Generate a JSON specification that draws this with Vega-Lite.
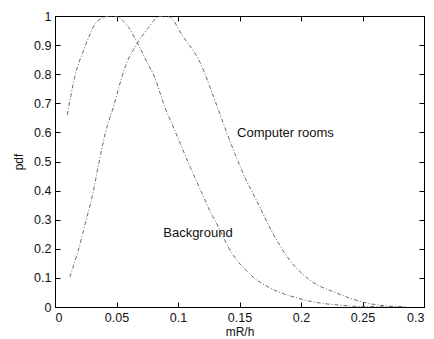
{
  "$schema": "https://vega.github.io/schema/vega-lite/v6.json",
  "width": 369,
  "height": 291,
  "autosize": {"type": "none"},
  "padding": {"left": 55, "top": 16, "right": 10, "bottom": 32},
  "background": "white",
  "config": {
    "view": {"stroke": "black", "strokeWidth": 1},
    "font": "Liberation Sans",
    "axis": {
      "grid": false,
      "domainColor": "black",
      "tickColor": "black",
      "tickSize": -5,
      "labelPadding": 9,
      "labelFont": "Liberation Sans",
      "labelFontSize": 12.5,
      "labelColor": "#111",
      "titleFont": "Liberation Sans",
      "titleFontSize": 12,
      "titleFontWeight": "normal",
      "titleColor": "#111"
    }
  },
  "datasets": {
    "curves": [
      {"series": "Background", "x": 0.010, "y": 0.66},
      {"series": "Background", "x": 0.016, "y": 0.79},
      {"series": "Background", "x": 0.024, "y": 0.89},
      {"series": "Background", "x": 0.033, "y": 0.975},
      {"series": "Background", "x": 0.041, "y": 0.997},
      {"series": "Background", "x": 0.045, "y": 1.0},
      {"series": "Background", "x": 0.049, "y": 1.0},
      {"series": "Background", "x": 0.055, "y": 0.985},
      {"series": "Background", "x": 0.060, "y": 0.96},
      {"series": "Background", "x": 0.067, "y": 0.907},
      {"series": "Background", "x": 0.075, "y": 0.84},
      {"series": "Background", "x": 0.081, "y": 0.79},
      {"series": "Background", "x": 0.089, "y": 0.69},
      {"series": "Background", "x": 0.095, "y": 0.63},
      {"series": "Background", "x": 0.102, "y": 0.56},
      {"series": "Background", "x": 0.110, "y": 0.48},
      {"series": "Background", "x": 0.118, "y": 0.405},
      {"series": "Background", "x": 0.126, "y": 0.33},
      {"series": "Background", "x": 0.134, "y": 0.265},
      {"series": "Background", "x": 0.141, "y": 0.205},
      {"series": "Background", "x": 0.148, "y": 0.16},
      {"series": "Background", "x": 0.155, "y": 0.128},
      {"series": "Background", "x": 0.161, "y": 0.103},
      {"series": "Background", "x": 0.168, "y": 0.082},
      {"series": "Background", "x": 0.175, "y": 0.065},
      {"series": "Background", "x": 0.186, "y": 0.045},
      {"series": "Background", "x": 0.197, "y": 0.031},
      {"series": "Background", "x": 0.206, "y": 0.021},
      {"series": "Background", "x": 0.215, "y": 0.014},
      {"series": "Background", "x": 0.230, "y": 0.007},
      {"series": "Background", "x": 0.242, "y": 0.003},
      {"series": "Background", "x": 0.260, "y": 0.001},
      {"series": "Background", "x": 0.280, "y": 0.0},
      {"series": "Computer rooms", "x": 0.012, "y": 0.103},
      {"series": "Computer rooms", "x": 0.019, "y": 0.196},
      {"series": "Computer rooms", "x": 0.026, "y": 0.31},
      {"series": "Computer rooms", "x": 0.030, "y": 0.375},
      {"series": "Computer rooms", "x": 0.035, "y": 0.48},
      {"series": "Computer rooms", "x": 0.041, "y": 0.60},
      {"series": "Computer rooms", "x": 0.047, "y": 0.68},
      {"series": "Computer rooms", "x": 0.057, "y": 0.825},
      {"series": "Computer rooms", "x": 0.067, "y": 0.907},
      {"series": "Computer rooms", "x": 0.076, "y": 0.96},
      {"series": "Computer rooms", "x": 0.083, "y": 0.995},
      {"series": "Computer rooms", "x": 0.088, "y": 1.0},
      {"series": "Computer rooms", "x": 0.093, "y": 0.997},
      {"series": "Computer rooms", "x": 0.104, "y": 0.93},
      {"series": "Computer rooms", "x": 0.118, "y": 0.84},
      {"series": "Computer rooms", "x": 0.130, "y": 0.71},
      {"series": "Computer rooms", "x": 0.145, "y": 0.54},
      {"series": "Computer rooms", "x": 0.155, "y": 0.44},
      {"series": "Computer rooms", "x": 0.164, "y": 0.365},
      {"series": "Computer rooms", "x": 0.177, "y": 0.254},
      {"series": "Computer rooms", "x": 0.191, "y": 0.16},
      {"series": "Computer rooms", "x": 0.207, "y": 0.093},
      {"series": "Computer rooms", "x": 0.229, "y": 0.048},
      {"series": "Computer rooms", "x": 0.250, "y": 0.017},
      {"series": "Computer rooms", "x": 0.272, "y": 0.003},
      {"series": "Computer rooms", "x": 0.285, "y": 0.001}
    ],
    "labels": [
      {"label": "Computer rooms", "x": 0.148, "y": 0.598},
      {"label": "Background", "x": 0.088, "y": 0.254}
    ]
  },
  "layer": [
    {
      "data": {"name": "curves"},
      "mark": {"type": "line", "strokeWidth": 1, "strokeDash": [4, 2, 1, 2], "interpolate": "monotone", "clip": true},
      "encoding": {
        "x": {
          "field": "x", "type": "quantitative",
          "scale": {"domain": [0, 0.3], "nice": false, "zero": false},
          "axis": {"orient": "bottom", "title": "mR/h", "titlePadding": 3,
                   "values": [0, 0.05, 0.1, 0.15, 0.2, 0.25, 0.3], "format": ".2~f"}
        },
        "y": {
          "field": "y", "type": "quantitative",
          "scale": {"domain": [0, 1], "nice": false, "zero": false},
          "axis": {"orient": "left", "title": "pdf", "titlePadding": 8,
                   "values": [0, 0.1, 0.2, 0.3, 0.4, 0.5, 0.6, 0.7, 0.8, 0.9, 1], "format": ".1~f"}
        },
        "color": {
          "field": "series", "type": "nominal",
          "scale": {"range": ["#6a6a6a", "#6a6a6a"]},
          "legend": null
        }
      }
    },
    {
      "data": {"name": "labels"},
      "mark": {"type": "text", "align": "left", "baseline": "middle", "font": "Liberation Sans", "fontSize": 13, "color": "#111"},
      "encoding": {
        "x": {"field": "x", "type": "quantitative", "axis": {"orient": "top", "labels": false, "title": null, "values": [0, 0.05, 0.1, 0.15, 0.2, 0.25, 0.3]}},
        "y": {"field": "y", "type": "quantitative", "axis": {"orient": "right", "labels": false, "title": null, "values": [0, 0.1, 0.2, 0.3, 0.4, 0.5, 0.6, 0.7, 0.8, 0.9, 1]}},
        "text": {"field": "label"}
      }
    }
  ],
  "resolve": {"axis": {"x": "independent", "y": "independent"}}
}
